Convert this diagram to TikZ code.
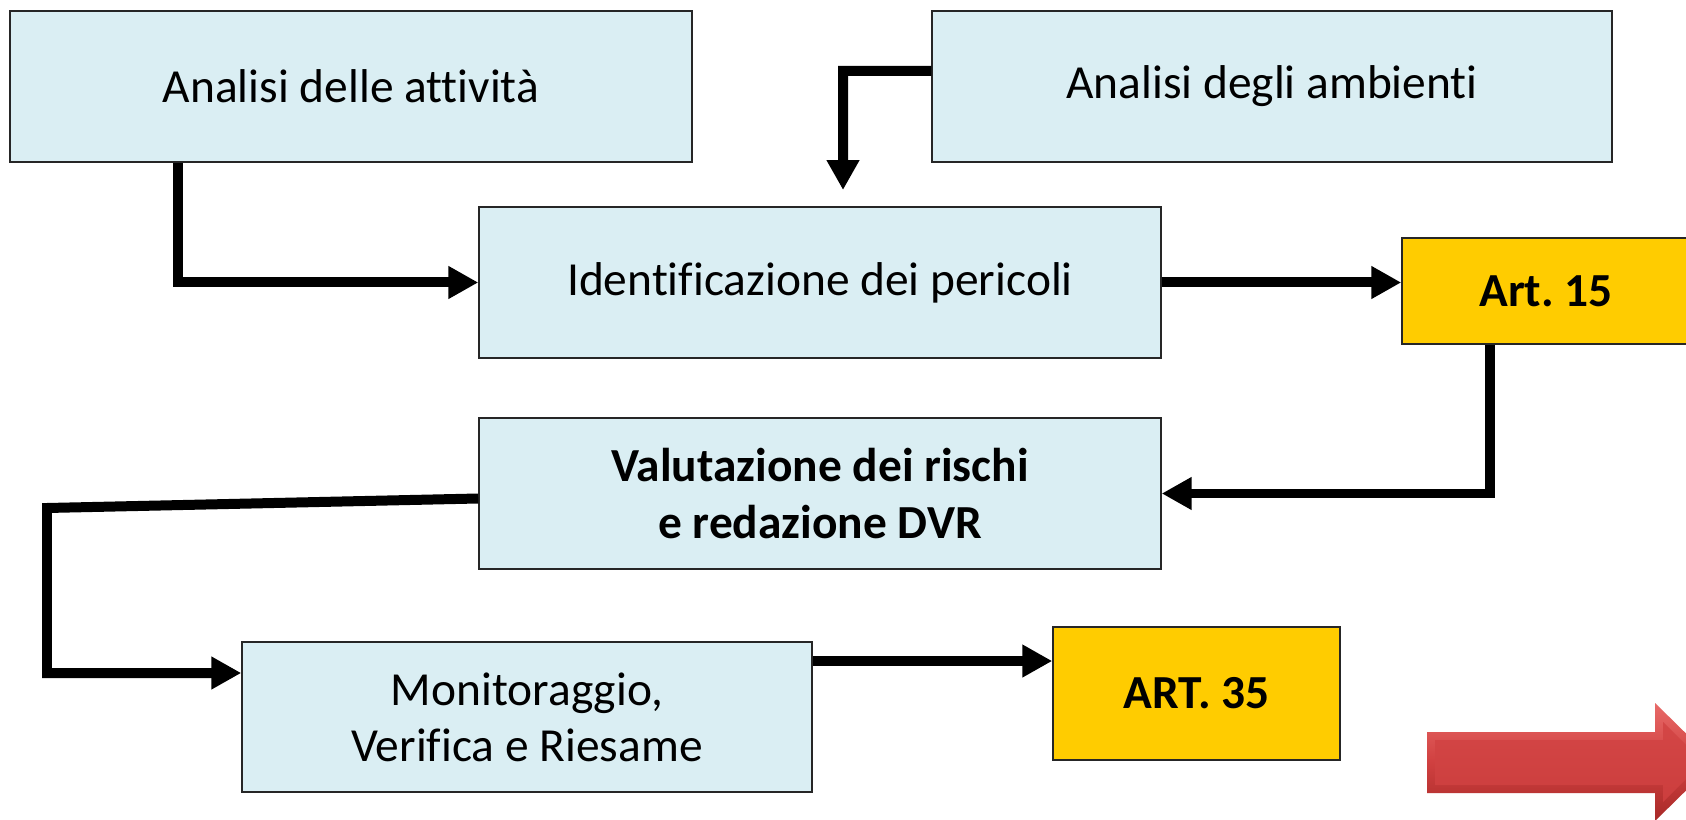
\documentclass[tikz,border=0pt]{standalone}
\usepackage{fontspec}
\setmainfont{Carlito}[Ligatures=NoCommon]
\usetikzlibrary{arrows.meta}
\definecolor{boxblue}{HTML}{DAEEF3}
\definecolor{artyellow}{HTML}{FFCC00}
\definecolor{edgegray}{HTML}{262626}
\definecolor{redlight}{HTML}{E86A68}
\definecolor{redmid}{HTML}{D04040}
\definecolor{reddark}{HTML}{A82A28}
\tikzset{
  stepbox/.style={draw=edgegray, line width=0.9pt, fill=boxblue, align=center, inner sep=0pt,
    font=\fontsize{27}{32}\selectfont},
  artbox/.style={stepbox, fill=artyellow, font=\fontsize{27}{32}\selectfont\bfseries},
  conn/.style={line width=0.2cm, line join=miter, -{Triangle[width=0.62cm,length=0.6cm]}},
}
\frenchspacing
\begin{document}
\begin{tikzpicture}[x=0.02cm,y=-0.02cm]
\useasboundingbox (0,0) rectangle (1686,820);
\begin{scope}
\clip (0,0) rectangle (1686,820);
\fill[white] (0,0) rectangle (1686,820);

% boxes
\node[stepbox, minimum width=13.64cm, minimum height=3.02cm] (A) at (351,86.5) {Analisi delle attività};
\node[stepbox, minimum width=13.6cm, minimum height=3.02cm] (B) at (1272,86.5) {Analisi degli ambienti};
\node[stepbox, minimum width=13.64cm, minimum height=3.02cm] (C) at (820,282.5) {Identificazione dei pericoli};
\node[artbox, minimum width=5.76cm, minimum height=2.12cm] (D) at (1546,291) {Art. 15};
\node[stepbox, font=\fontsize{27}{32}\selectfont\bfseries, minimum width=13.64cm, minimum height=3.02cm] (E) at (820,493.5) {Valutazione dei rischi\\ e redazione DVR};
\node[stepbox, minimum width=11.4cm, minimum height=3.0cm] (F) at (527,717) {Monitoraggio,\\Verifica e Riesame};
\node[artbox, minimum width=5.74cm, minimum height=2.66cm] (G) at (1196.5,693.5) {ART. 35};

% connectors
\coordinate (ac) at (178,283);
\draw[conn] (ac |- A.south) |- (C.west);

\coordinate (bend) at (843,71);
\coordinate (btip) at (843,190);
\draw[conn] ([yshift=0.31cm]B.west) -- (bend) -- (btip);

\draw[conn] (C.east) -- (C.east -| D.west);

\coordinate (de) at (1490,400);
\draw[conn] (de |- D.south) |- (E.east);

\coordinate (ef1) at (47,508);
\coordinate (ef2) at (47,673);
\draw[conn] ([yshift=-0.1cm]E.west) -- (ef1) -- (ef2) -- (ef2 -| F.west);

\draw[conn] ([yshift=1.12cm]F.east) -- ([yshift=1.12cm]F.east -| G.west);

% red block arrow
\shade[top color=redlight, bottom color=reddark, middle color=redmid]
  (1427,732) -- (1655,732) -- (1655,703) -- (1715,762) -- (1655,821) -- (1655,793) -- (1427,793) -- cycle;
\shade[top color=redmid!85!redlight, bottom color=redmid!90!reddark]
  (1435,740) -- (1663,740) -- (1663,722) -- (1703,762) -- (1663,802) -- (1663,785) -- (1435,785) -- cycle;
\end{scope}
\end{tikzpicture}
\end{document}
